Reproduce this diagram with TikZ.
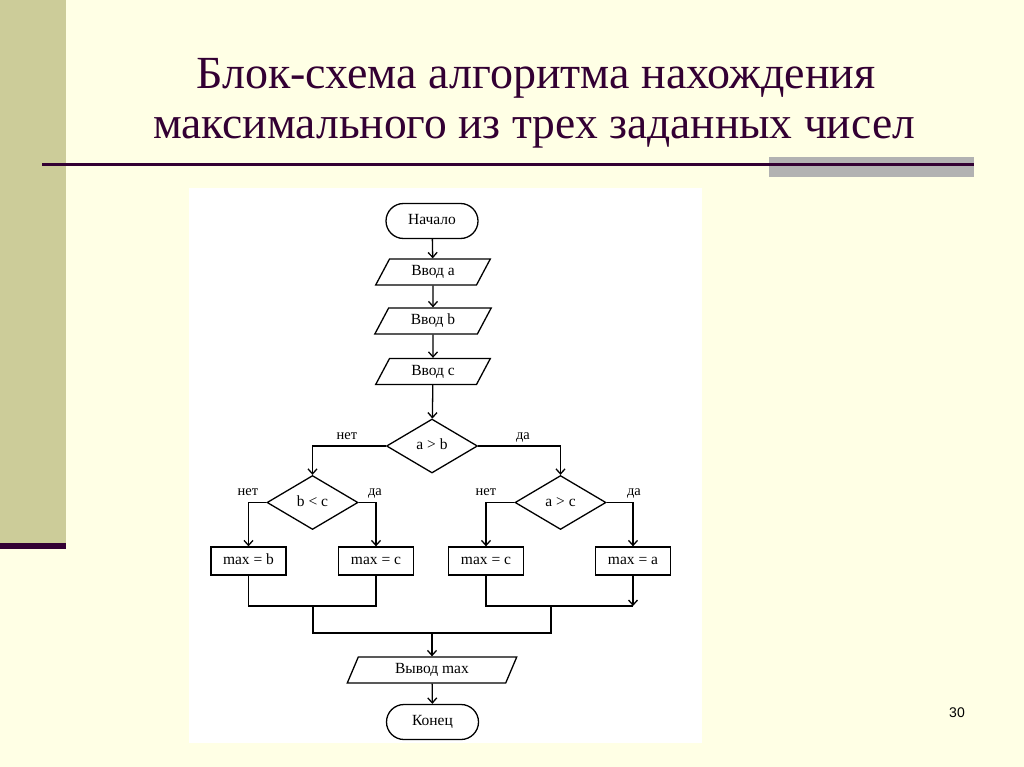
\documentclass[tikz,border=0pt]{standalone}
\usepackage{fontspec}
\setmainfont{Liberation Serif}
\newfontfamily\numfont{Liberation Sans}
\usetikzlibrary{shapes,arrows.meta,positioning,calc}
\definecolor{slidebg}{RGB}{255,255,229}
\definecolor{sidebar}{RGB}{204,204,153}
\definecolor{plum}{RGB}{51,0,51}
\definecolor{bargray}{RGB}{178,178,178}

\begin{document}
\begin{tikzpicture}
		[x=1pt,y=-1pt,
		every node/.style={font=\fontsize{15.5}{17}\selectfont,inner sep=0pt},
		box text/.style={text height=10pt,text depth=3pt},
		term/.style={draw,box text,line width=1.3pt,rounded rectangle,minimum width=92pt,minimum height=35pt},
		io/.style={draw,box text,line width=1.3pt,trapezium,trapezium left angle=62,trapezium right angle=118,minimum width=106pt,minimum height=26pt},
		cond/.style={draw,box text,line width=1.3pt,diamond,minimum width=91pt,minimum height=54pt},
		act/.style={draw,box text,line width=1.3pt,rectangle,minimum width=75pt,minimum height=28pt},
		yesno/.style={box text,font=\fontsize{14.5}{16}\selectfont},
		arr/.style={line width=1.3pt,-{Straight Barb[length=5pt,width=9pt]}},
		line/.style={line width=1.3pt}]
		% slide
		\useasboundingbox (0,0) rectangle (1024,767);
		\fill[slidebg] (0,0) rectangle (1024,767);
		\fill[sidebar] (0,0) rectangle (66,543);
		\fill[plum] (0,543) rectangle (66,549);
		\fill[bargray] (769,157) rectangle (974,177);
		\fill[plum] (42,163) rectangle (974,166);
		\node[font=\fontsize{46}{50}\selectfont,text=plum,anchor=base] (title1) at (536,89) {Блок-схема алгоритма нахождения};
		\node[font=\fontsize{45.5}{50}\selectfont,text=plum,anchor=base] (title2) at (534,139) {максимального из трех заданных чисел};
		\node[font=\numfont\fontsize{14}{16}\selectfont] (page) at (957,713) {30};
		\fill[white] (189,188) rectangle (702,743);
		% flowchart
		\node[term] (nachalo) at (432,221) {Начало};
		\node[io] (vvoda) at (433,272) {Ввод а};
		\node[io] (vvodb) at (433,321) {Ввод b};
		\node[io] (vvodc) at (433,371.5) {Ввод с};
		\node[cond] (ab) at (432,446) {a > b};
		\node[cond] (bc) at (312.5,502.5) {b < c};
		\node[cond] (ac) at (560.5,502.5) {a > c};
		\node[act] (maxb) at (248.5,561) {max = b};
		\node[act] (maxcl) at (376,561) {max = c};
		\node[act] (maxcr) at (486,561) {max = c};
		\node[act] (maxa) at (633,561) {max = a};
		\node[io,minimum width=158pt,trapezium left angle=67,trapezium right angle=113] (vyvod) at (432,670) {Вывод max};
		\node[term] (konec) at (432.5,722) {Конец};
		\node[yesno] (n1) at (347,436) {нет};
		\node[yesno] (d1) at (523,436) {да};
		\node[yesno] (n2) at (248,492) {нет};
		\node[yesno] (d2) at (375,492) {да};
		\node[yesno] (n3) at (486,492) {нет};
		\node[yesno] (d3) at (634,492) {да};
		\coordinate (jl) at (313,606);
		\coordinate (jr) at (551,606);
		\coordinate (jm) at (432,633);
		\draw[arr] (nachalo) -- (vvoda);
		\draw[arr] (vvoda) -- (vvodb);
		\draw[arr] (vvodb) -- (vvodc);
		\draw[arr] (vvodc) -- (ab);
		\draw[arr] (ab.west) -| (bc.north);
		\draw[arr] (ab.east) -| (ac.north);
		\draw[arr] (bc.west) -| (maxb.north);
		\draw[arr] (bc.east) -| (maxcl.north);
		\draw[arr] (ac.west) -| (maxcr.north);
		\draw[arr] (ac.east) -| (maxa.north);
		\draw[line] (maxb.south) |- (jl) -| (maxcl.south);
		\draw[line] (maxcr.south) |- (jr) -- (maxa.south |- jr);
		\draw[arr] (maxa.south) -- (maxa.south |- jr);
		\draw[line] (jl) -- (jl |- jm) -- (jr |- jm) -- (jr);
		\draw[arr] (jm) -- (vyvod);
		\draw[arr] (vyvod) -- (konec);
\end{tikzpicture}
\end{document}
